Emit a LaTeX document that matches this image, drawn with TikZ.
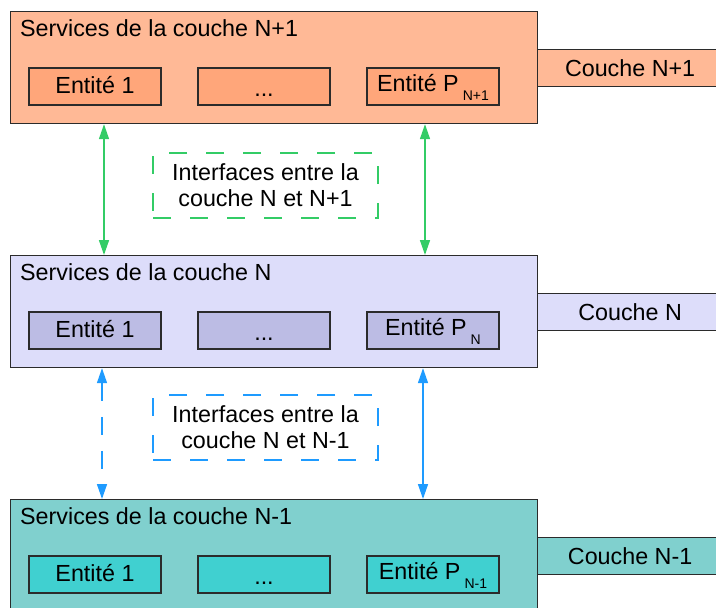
\documentclass[tikz,border=0pt]{standalone}
\usepackage{fontspec}
\setmainfont{Liberation Sans}
\usetikzlibrary{arrows.meta}
\definecolor{bord}{HTML}{2B2B2B}
\definecolor{orL}{HTML}{FFB996}
\definecolor{orE}{HTML}{FFA67A}
\definecolor{lvL}{HTML}{DDDDFA}
\definecolor{lvE}{HTML}{BCBCE4}
\definecolor{tqL}{HTML}{80D0CE}
\definecolor{tqE}{HTML}{40D0D0}
\definecolor{grA}{HTML}{33CC66}
\definecolor{blA}{HTML}{1E9BFF}
\begin{document}
\begin{tikzpicture}[x=1pt,y=-1pt,
  every node/.style={font=\fontsize{23.3}{26}\selectfont, text=black},
  layer/.style={draw=bord, line width=1.2pt, minimum width=527pt, minimum height=112pt, anchor=north west, inner sep=0pt},
  ent/.style={draw=bord, line width=1.2pt, minimum width=132pt, minimum height=37pt, inner sep=0pt, text height=13pt, text depth=0pt},
  entp/.style={ent, text depth=4pt},
  dots/.style={ent, text height=20pt},
  lab/.style={draw=bord, line width=1.2pt, minimum width=185pt, minimum height=37pt, anchor=north west, inner sep=0pt},
  ttl/.style={anchor=base west, inner sep=0pt},
  ibox/.style={line width=1.2pt, dash pattern=on 18pt off 19pt, minimum width=225pt, minimum height=65pt, align=center, inner sep=0pt},
  link/.style={line width=1.5pt, {Triangle[length=15pt,width=10pt]}-{Triangle[length=15pt,width=10pt]}}
]
\useasboundingbox (0,0) rectangle (716,608);
% top layer N+1
\node[layer, fill=orL] (L1) at (10,11) {};
\node[ttl] (T1) at (20,36) {Services de la couche N+1};
\node[ent, fill=orE] (E11) at (95,86.5) {Entité 1};
\node[dots, fill=orE] (E12) at (264,86.5) {...};
\node[entp, fill=orE] (E13) at (433,86.5) {Entité P\hspace{4pt}\raisebox{-9pt}{\fontsize{14}{14}\selectfont N+1}};
\node[lab, fill=orL] (C1) at (537,49) {Couche N+1};
% middle layer N
\node[layer, fill=lvL] (L2) at (10,255) {};
\node[ttl] (T2) at (20,280) {Services de la couche N};
\node[ent, fill=lvE] (E21) at (95,330.5) {Entité 1};
\node[dots, fill=lvE] (E22) at (264,330.5) {...};
\node[entp, fill=lvE] (E23) at (433,330.5) {Entité P\hspace{4pt}\raisebox{-9pt}{\fontsize{14}{14}\selectfont N}};
\node[lab, fill=lvL] (C2) at (537,293) {Couche N};
% bottom layer N-1
\node[layer, fill=tqL] (L3) at (10,499) {};
\node[ttl] (T3) at (20,524) {Services de la couche N-1};
\node[ent, fill=tqE] (E31) at (95,574.5) {Entité 1};
\node[dots, fill=tqE] (E32) at (264,574.5) {...};
\node[entp, fill=tqE] (E33) at (433,574.5) {Entité P\hspace{4pt}\raisebox{-9pt}{\fontsize{14}{14}\selectfont N-1}};
\node[lab, fill=tqL] (C3) at (537,537) {Couche N-1};
% interfaces
\node[ibox, draw=grA] (I1) at (265.5,185.5) {Interfaces entre la\\couche N et N+1};
\node[ibox, draw=blA] (I2) at (265.5,427.5) {Interfaces entre la\\couche N et N-1};
% connectors
\coordinate (ga) at (104,0);
\coordinate (gb) at (425,0);
\coordinate (ba) at (102,0);
\coordinate (bb) at (423,0);
\draw[link, grA] (L1.south -| ga) -- (L2.north -| ga);
\draw[link, grA] (L1.south -| gb) -- (L2.north -| gb);
\draw[link, blA, dash pattern=on 18pt off 16pt] (L2.south -| ba) -- (L3.north -| ba);
\draw[link, blA] (L2.south -| bb) -- (L3.north -| bb);
\end{tikzpicture}
\end{document}
